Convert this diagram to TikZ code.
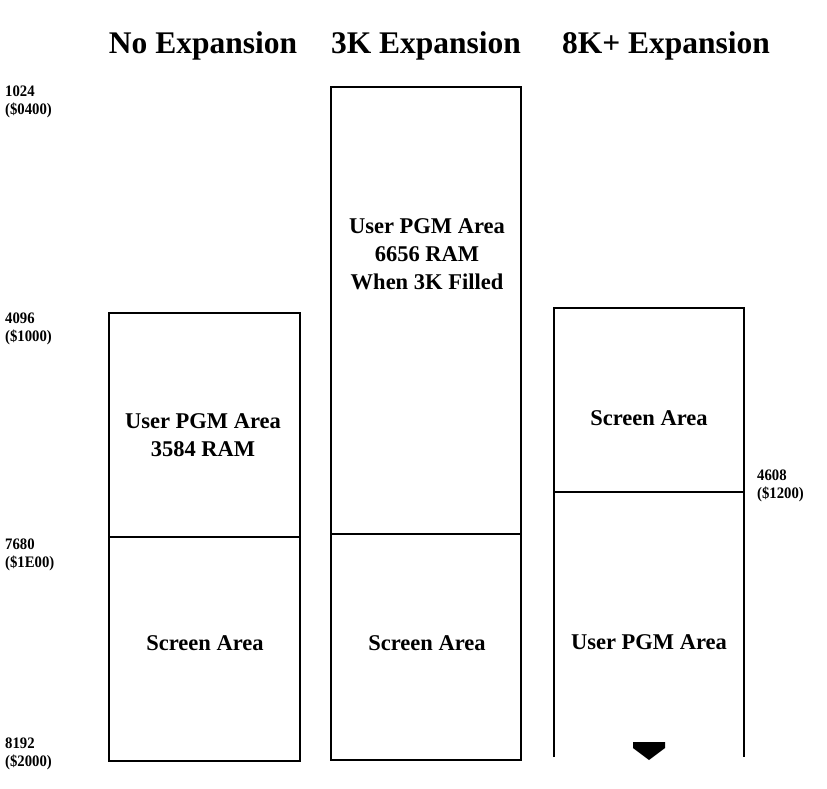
\documentclass[tikz,border=0pt]{standalone}
\usepackage{fontspec}
\setmainfont{Liberation Serif}
\newfontfamily\ttlfont[FakeStretch=1.0]{Liberation Serif}
\newfontfamily\addrfont[FakeStretch=0.92]{Liberation Serif}
\begin{document}
\begin{tikzpicture}[x=1pt,y=-1pt,
  lbl/.style={font=\bfseries\fontsize{22.5}{28}\selectfont, align=center, inner sep=0pt},
  ttl/.style={font=\ttlfont\bfseries\fontsize{31.5}{33}\selectfont, inner sep=0pt},
  addr/.style={font=\addrfont\bfseries\fontsize{16}{18}\selectfont, align=left, inner sep=0pt, anchor=north west},
  wall/.style={line width=1.8pt},
  area/.style={draw, line width=1.8pt, minimum width=191pt, inner sep=0pt}]
\useasboundingbox (0,0) rectangle (827,788);
% titles
\node[ttl] (t1) at (203,46) {No Expansion};
\node[ttl] (t2) at (426,46) {3K Expansion};
\node[ttl] (t3) at (666,46) {8K+ Expansion};
% box 1
\node[area, minimum height=224pt] (b1u) at (204.5,425) {};
\node[area, minimum height=224pt] (b1s) at (204.5,649) {};
\node[lbl] at (203,435) {User PGM Area\\3584 RAM};
\node[lbl] at (205,643) {Screen Area};
% box 2
\node[area, minimum width=190pt, minimum height=447pt] (b2u) at (426,310.5) {};
\node[area, minimum width=190pt, minimum height=226pt] (b2s) at (426,647) {};
\node[lbl] at (427,254) {User PGM Area\\6656 RAM\\When 3K Filled};
\node[lbl] at (427,643) {Screen Area};
% box 3
\coordinate (c1) at (554,757);
\coordinate (c2) at (554,308);
\coordinate (c3) at (744,308);
\coordinate (c4) at (744,757);
\coordinate (d1) at (554,492);
\coordinate (d2) at (744,492);
\draw[wall] (c1) -- (c2) -- (c3) -- (c4);
\draw[wall] (d1) -- (d2);
\node[lbl] (s3) at (649,418) {Screen Area};
\node[lbl] (u3) at (649,642) {User PGM Area};
\fill (633,742) -- (665,742) -- (665,748) -- (649,760) -- (633,748) -- cycle;
% addresses
\node[addr] (a1) at (5,86) {1024\\(\$0400)};
\node[addr] (a2) at (5,313) {4096\\(\$1000)};
\node[addr] (a3) at (5,539) {7680\\(\$1E00)};
\node[addr] (a4) at (5,738) {8192\\(\$2000)};
\node[addr] (a5) at (757,470) {4608\\(\$1200)};
\end{tikzpicture}
\end{document}
